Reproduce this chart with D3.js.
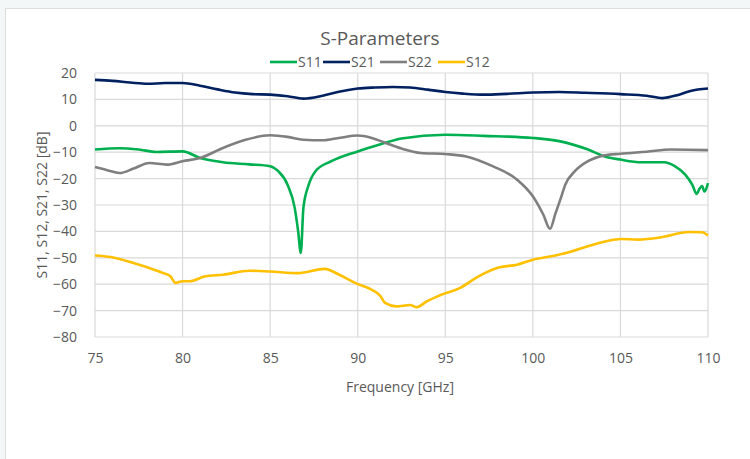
<!DOCTYPE html>
<html><head><meta charset="utf-8">
<script src="https://cdn.jsdelivr.net/npm/d3@7"></script>
<style>
html,body{margin:0;padding:0;background:#f4f7f8;width:750px;height:459px;overflow:hidden;}
#card{position:absolute;left:5px;top:8px;width:760px;height:470px;background:#fff;border:1px solid #dcdcdc;box-sizing:border-box;}
svg{position:absolute;left:0;top:0;}
text{font-family:"Open Sans","Noto Sans",sans-serif;fill:#595959;}
</style></head>
<body><div id="card"></div><svg id="chart" width="750" height="459"></svg>
<script>
const seriesNames = ["S11","S21","S22","S12"];
const seriesColors = ["#00b050","#002060","#7f7f7f","#ffc000"];
const xTicks = [75,80,85,90,95,100,105,110];
const yTicks = [20,10,0,-10,-20,-30,-40,-50,-60,-70,-80];

const s11 = [[75,-9.0],[76.4,-8.5],[77.5,-9.0],[78.5,-9.9],[80,-9.7],[81,-12.2],[82.3,-13.8],[83.8,-14.6],[85,-15.3],[85.45,-17.1],[86.0,-22.4],[86.4,-31],[86.6,-40],[86.75,-48.2],[86.9,-31],[87.2,-22.4],[87.6,-17.1],[88.5,-13.4],[90,-9.7],[91.3,-7.0],[92.5,-4.8],[95,-3.4],[97.2,-3.8],[100,-4.6],[101.5,-5.8],[103.15,-9.0],[104.1,-11.6],[105,-12.8],[106.2,-13.8],[107.5,-13.8],[108.1,-15.3],[108.7,-18.5],[109.1,-22.3],[109.36,-25.8],[109.5,-24.0],[109.66,-22.8],[109.8,-24.9],[110,-21.7]];
const s21 = [[75,17.4],[76,17.0],[77,16.4],[78,15.9],[79,16.2],[80,16.2],[81,15.2],[82,13.8],[83,12.6],[84,12.0],[85,11.8],[86,11.2],[86.9,10.3],[88,11.4],[89,13.0],[90,14.1],[91,14.5],[92,14.7],[93,14.5],[94,13.7],[95,12.8],[96,12.2],[97.2,11.8],[98.5,12.1],[100,12.6],[101.5,12.8],[103,12.5],[105,12.0],[106.5,11.4],[107.4,10.5],[108.3,11.7],[109,13.2],[110,14.1]];
const s22 = [[75,-15.6],[75.7,-16.8],[76.4,-17.9],[77.2,-16.2],[78.1,-14.1],[79.1,-14.7],[80,-13.4],[81,-12.2],[82.3,-8.4],[83.6,-5.3],[85,-3.6],[86,-4.2],[86.9,-5.3],[88,-5.5],[89,-4.5],[90,-3.7],[90.8,-4.6],[91.6,-6.5],[92.5,-8.6],[93.6,-10.3],[95,-10.7],[96.2,-11.6],[97.7,-15.3],[99.1,-20.4],[100,-26.7],[100.6,-33.7],[100.98,-39.0],[101.3,-33],[101.6,-27.3],[101.85,-22.3],[102.4,-17.2],[103.15,-13.4],[104.1,-11.2],[105,-10.6],[106.5,-9.8],[107.9,-9.0],[110,-9.2]];
const s12 = [[75,-49.1],[75.9,-49.7],[77.2,-52.0],[78.1,-53.9],[78.9,-55.8],[79.3,-57.0],[79.6,-59.5],[80,-58.9],[80.4,-58.9],[81.3,-57.0],[82.3,-56.4],[83.8,-54.9],[85,-55.2],[86.6,-55.8],[88.1,-54.2],[89.0,-56.6],[89.85,-59.5],[90.8,-62.1],[91.3,-64.5],[91.56,-67.1],[92.2,-68.4],[93.0,-67.9],[93.37,-68.7],[93.94,-66.5],[94.7,-64.2],[95.85,-61.4],[96.8,-57.4],[98.1,-53.6],[99.1,-52.6],[100,-50.7],[101.3,-49.1],[102.2,-47.6],[103.15,-45.6],[104.7,-43.1],[105,-42.9],[106,-43.1],[107.35,-42.2],[108.9,-40.2],[109.66,-40.3],[110,-41.5]];
const allSeries = [s11,s21,s22,s12];

const svg = d3.select("#chart");
const L=95, R=708, T=73, B=337;
const x = d3.scaleLinear().domain([75,110]).range([L,R]);
const y = d3.scaleLinear().domain([-80,20]).range([B,T]);

// grid
svg.append("g").selectAll("line.h").data(yTicks).join("line")
  .attr("x1",L).attr("x2",R).attr("y1",d=>y(d)).attr("y2",d=>y(d))
  .attr("stroke","#d9d9d9").attr("stroke-width",1.2);
svg.append("g").selectAll("line.v").data(xTicks).join("line")
  .attr("y1",T).attr("y2",B).attr("x1",d=>x(d)).attr("x2",d=>x(d))
  .attr("stroke","#d9d9d9").attr("stroke-width",1.2);

// axes labels
const yAxis = d3.axisLeft(y).tickValues(yTicks).tickSize(0).tickPadding(18);
const gy = svg.append("g").attr("transform",`translate(${L},0)`).call(yAxis);
gy.select(".domain").remove();
gy.selectAll("text").style("font-size","14px").style("fill","#595959").style("font-family","'Open Sans',sans-serif");
const xAxis = d3.axisBottom(x).tickValues(xTicks).tickSize(0).tickPadding(16);
const gx = svg.append("g").attr("transform",`translate(0,${B})`).call(xAxis);
gx.select(".domain").remove();
gx.selectAll("text").style("font-size","14px").style("fill","#595959").style("font-family","'Open Sans',sans-serif");

// lines
const line = d3.line().x(d=>x(d[0])).y(d=>y(d[1])).curve(d3.curveMonotoneX);
allSeries.forEach((s,i)=>{
  svg.append("path").datum(s).attr("d",line).attr("fill","none")
    .attr("stroke",seriesColors[i]).attr("stroke-width",2.6).attr("stroke-linejoin","round");
});

// title
svg.append("text").attr("x",380).attr("y",45).attr("text-anchor","middle")
  .style("font-size","19px").text("S-Parameters");

// legend
const legX = [270,323,380,438];
seriesNames.forEach((n,i)=>{
  svg.append("line").attr("x1",legX[i]).attr("x2",legX[i]+27).attr("y1",62).attr("y2",62)
    .attr("stroke",seriesColors[i]).attr("stroke-width",2.6);
  svg.append("text").attr("x",legX[i]+28).attr("y",67).style("font-size","14px").text(n);
});

// axis titles
svg.append("text").attr("x",400).attr("y",392).attr("text-anchor","middle")
  .style("font-size","14px").text("Frequency [GHz]");
svg.append("text").attr("transform","translate(47,205) rotate(-90)").attr("text-anchor","middle")
  .style("font-size","14px").text("S11, S12, S21, S22 [dB]");
</script></body></html>
